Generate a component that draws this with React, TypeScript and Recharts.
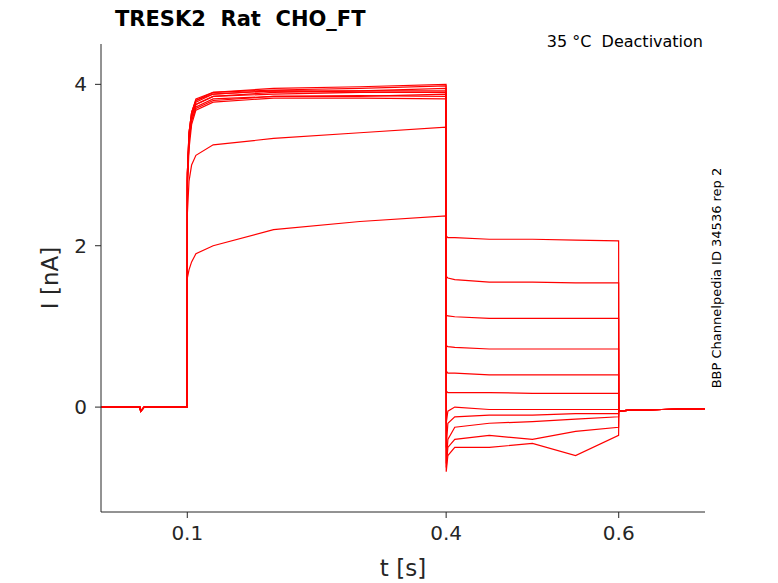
import React from 'react';
import { LineChart, Line, XAxis, YAxis } from 'recharts';

const times = [0, 0.045, 0.046, 0.05, 0.0999, 0.1001, 0.102, 0.105, 0.11, 0.13, 0.2, 0.3, 0.3999, 0.4001, 0.402, 0.41, 0.45, 0.5, 0.55, 0.5999, 0.6001, 0.61, 0.65, 0.7];

const s0 = [0, 0, -0.05, 0, 0, 2.8, 3.3, 3.6, 3.75, 3.85, 3.9, 3.92, 3.95, 2.12, 2.1, 2.1, 2.08, 2.08, 2.07, 2.06, -0.05, -0.04, -0.03, -0.02];
const s1 = [0, 0, -0.05, 0, 0, 2.9, 3.4, 3.65, 3.8, 3.9, 3.95, 3.97, 4.0, 1.62, 1.6, 1.58, 1.55, 1.55, 1.54, 1.54, -0.05, -0.04, -0.03, -0.02];
const s2 = [0, 0, -0.05, 0, 0, 2.8, 3.3, 3.55, 3.7, 3.8, 3.85, 3.85, 3.88, 1.14, 1.13, 1.12, 1.1, 1.1, 1.1, 1.1, -0.05, -0.04, -0.03, -0.02];
const s3 = [0, 0, -0.05, 0, 0, 2.9, 3.35, 3.6, 3.78, 3.88, 3.92, 3.9, 3.9, 0.76, 0.75, 0.74, 0.72, 0.72, 0.72, 0.72, -0.05, -0.04, -0.03, -0.02];
const s4 = [0, 0, -0.05, 0, 0, 2.7, 3.2, 3.5, 3.68, 3.78, 3.83, 3.83, 3.82, 0.45, 0.42, 0.42, 0.4, 0.4, 0.4, 0.4, -0.05, -0.04, -0.03, -0.02];
const s5 = [0, 0, -0.05, 0, 0, 2.9, 3.4, 3.65, 3.82, 3.9, 3.93, 3.95, 3.98, 0.2, 0.18, 0.18, 0.18, 0.17, 0.17, 0.17, -0.05, -0.04, -0.03, -0.02];
const s6 = [0, 0, -0.05, 0, 0, 2.85, 3.3, 3.6, 3.75, 3.85, 3.88, 3.9, 3.9, -0.2, -0.05, 0.0, -0.03, -0.03, -0.03, -0.03, -0.05, -0.04, -0.03, -0.02];
const s7 = [0, 0, -0.05, 0, 0, 2.8, 3.3, 3.55, 3.72, 3.82, 3.85, 3.86, 3.85, -0.5, -0.2, -0.12, -0.1, -0.1, -0.08, -0.08, -0.05, -0.04, -0.03, -0.02];
const s8 = [0, 0, -0.05, 0, 0, 2.9, 3.4, 3.65, 3.8, 3.88, 3.92, 3.92, 3.92, -0.7, -0.4, -0.25, -0.2, -0.18, -0.15, -0.12, -0.05, -0.04, -0.03, -0.02];
const s9 = [0, 0, -0.05, 0, 0, 2.4, 2.8, 3.0, 3.12, 3.25, 3.33, 3.4, 3.47, -0.75, -0.5, -0.4, -0.35, -0.4, -0.3, -0.25, -0.05, -0.04, -0.03, -0.02];
const s10 = [0, 0, -0.05, 0, 0, 1.6, 1.7, 1.8, 1.9, 2.0, 2.2, 2.3, 2.37, -0.8, -0.6, -0.5, -0.5, -0.45, -0.6, -0.35, -0.05, -0.04, -0.03, -0.02];

const series = [s0, s1, s2, s3, s4, s5, s6, s7, s8, s9, s10];
const xTicks = [0.1, 0.4, 0.6];
const yTicks = [0, 2, 4];

const data = times.map((t, i) => {
  const row: Record<string, number> = { t };
  series.forEach((s, k) => (row['s' + k] = s[i]));
  return row;
});

const font = 'DejaVu Sans, sans-serif';

export default function App() {
  return (
    <div style={{ position: 'absolute', left: 0, top: 0, width: 778, height: 583, fontFamily: font, background: '#fff' }}>
      <LineChart width={778} height={583} data={data} margin={{ top: 44, right: 73, bottom: 0, left: 0 }}>
        <XAxis dataKey="t" type="number" domain={[0, 0.7]} ticks={xTicks} height={71} tickMargin={8}
          tick={{ fontSize: 20, fill: '#262626', fontFamily: font }} stroke="#262626" tickLine={{ stroke: '#262626' }}
          tickFormatter={(v) => String(v)} />
        <YAxis type="number" domain={[-1.3, 4.5]} ticks={yTicks} width={101} allowDataOverflow tickMargin={8}
          tick={{ fontSize: 20, fill: '#262626', fontFamily: font }} stroke="#262626" />
        {series.map((_, k) => (
          <Line key={k} dataKey={'s' + k} type="linear" stroke="#ff0000" strokeWidth={1.2} dot={false} isAnimationActive={false} />
        ))}
        <text x={115} y={26} fontSize={21} fontWeight="bold" fill="#000" fontFamily={font}>{'TRESK2\u00a0\u00a0Rat\u00a0\u00a0CHO_FT'}</text>
        <text x={703} y={47} fontSize={16} textAnchor="end" fill="#000" fontFamily={font}>{'35 °C\u00a0\u00a0Deactivation'}</text>
        <text x={721} y={278} fontSize={13} textAnchor="middle" fill="#000" fontFamily={font} transform="rotate(-90 721 278)">BBP Channelpedia ID 34536 rep 2</text>
        <text x={403} y={576} fontSize={23} textAnchor="middle" fill="#262626" fontFamily={font}>t [s]</text>
        <text x={58} y={278} fontSize={23} textAnchor="middle" fill="#262626" fontFamily={font} transform="rotate(-90 58 278)">I [nA]</text>
      </LineChart>
    </div>
  );
}
